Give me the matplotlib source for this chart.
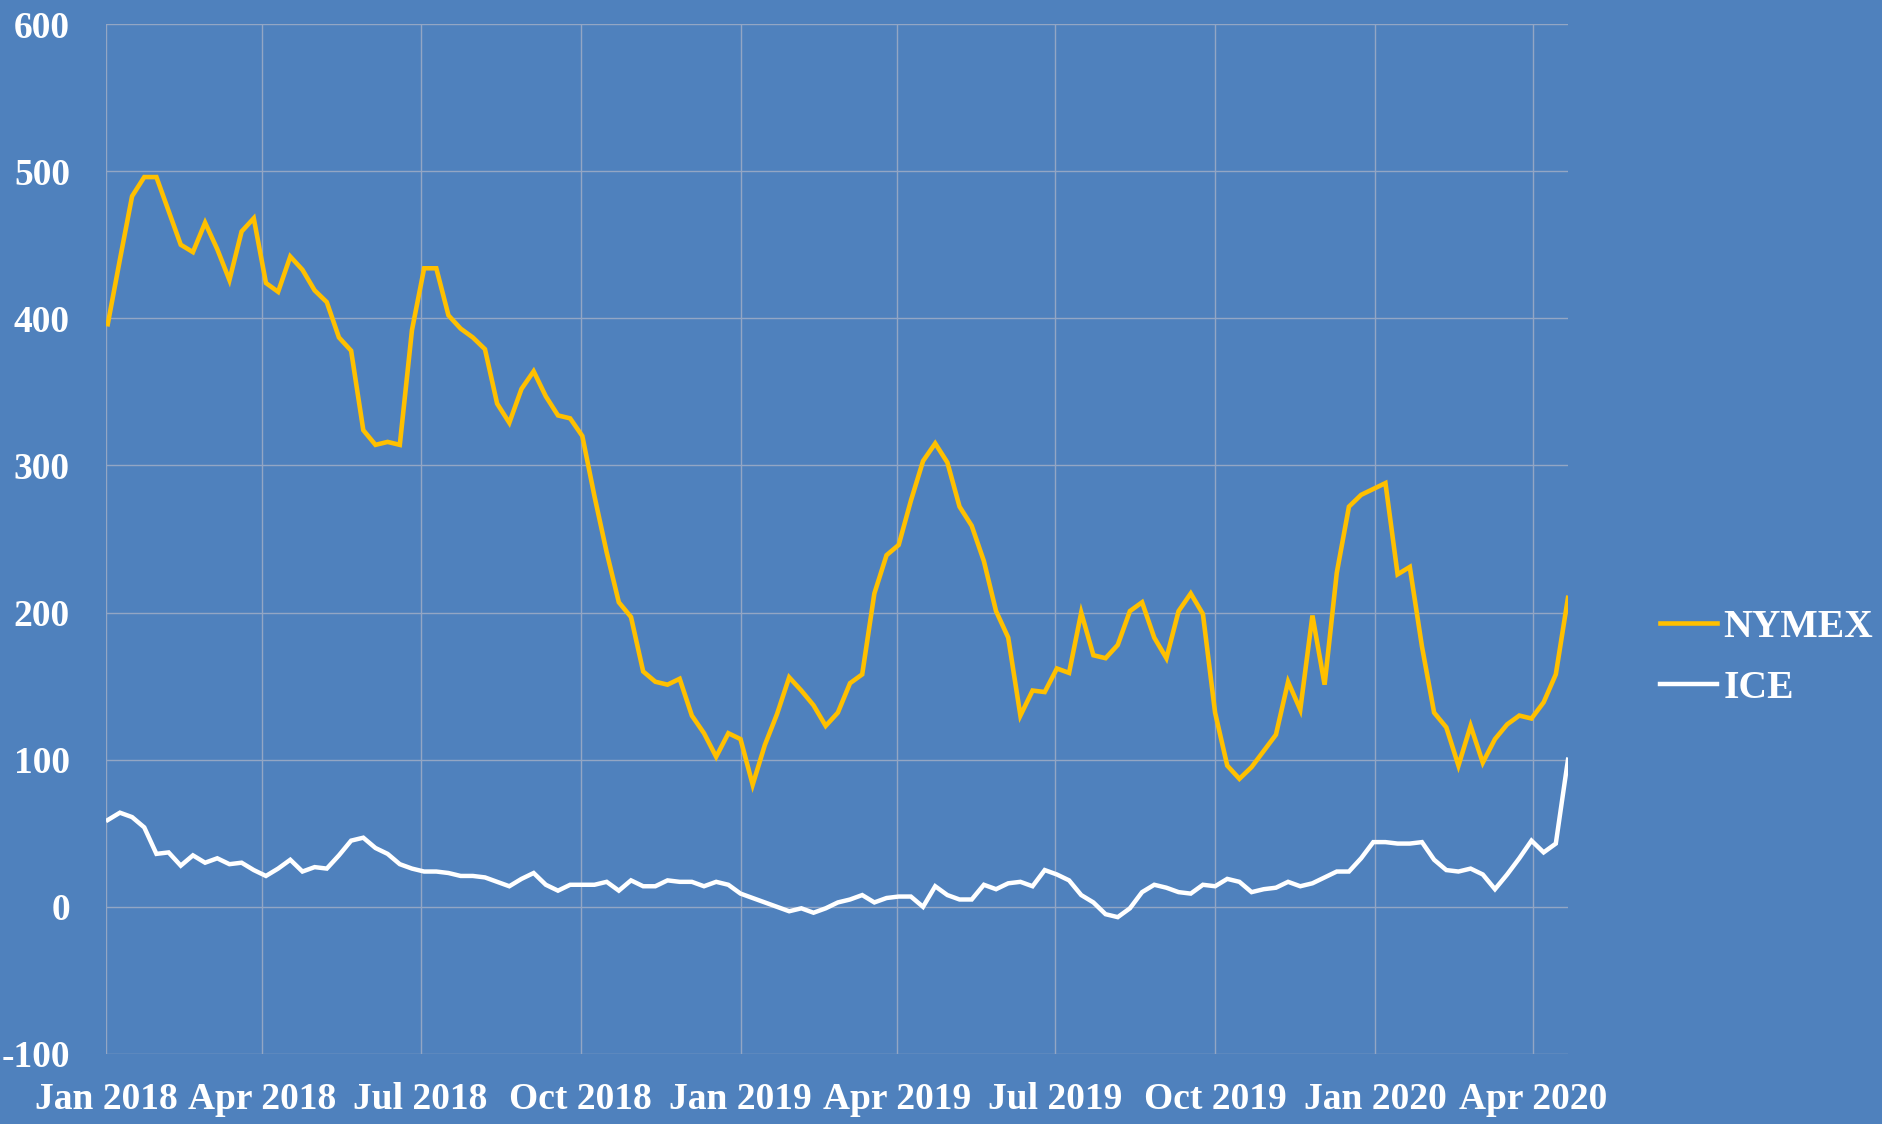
import pandas as pd
import matplotlib
matplotlib.use('Agg')
import matplotlib.pyplot as plt
import matplotlib.dates as mdates

# DATA (weekly, thousand contracts) ==============================================================
START_DATE = '2018-01-02'

nymex = [396, 440, 483, 496, 496, 473, 450, 445, 465, 447, 426, 459, 468, 424, 418, 442,
         433, 419, 411, 387, 378, 324, 314, 316, 314, 392, 434, 434, 402, 393, 387, 379,
         342, 329, 352, 364, 347, 334, 332, 320, 279, 241, 207, 197, 160, 153, 151, 155,
         130, 118, 102, 118, 114, 83, 110, 131, 156, 147, 137, 123, 132, 152, 158, 213,
         239, 246, 276, 303, 315, 302, 272, 259, 235, 201, 183, 130, 147, 146, 162, 159,
         200, 171, 169, 178, 201, 207, 183, 169, 201, 213, 199, 132, 96, 87, 95, 106,
         117, 153, 134, 198, 151, 227, 272, 280, 284, 288, 226, 231, 177, 132, 122, 96,
         123, 98, 114, 124, 130, 128, 139, 158, 210]

ice = [59, 64, 61, 54, 36, 37, 28, 35, 30, 33, 29, 30, 25, 21, 26, 32,
       24, 27, 26, 35, 45, 47, 40, 36, 29, 26, 24, 24, 23, 21, 21, 20,
       17, 14, 19, 23, 15, 11, 15, 15, 15, 17, 11, 18, 14, 14, 18, 17,
       17, 14, 17, 15, 9, 6, 3, 0, -3, -1, -4, -1, 3, 5, 8, 3,
       6, 7, 7, 0, 14, 8, 5, 5, 15, 12, 16, 17, 14, 25, 22, 18,
       8, 3, -5, -7, -1, 10, 15, 13, 10, 9, 15, 14, 19, 17, 10, 12,
       13, 17, 14, 16, 20, 24, 24, 33, 44, 44, 43, 43, 44, 32, 25, 24,
       26, 22, 12, 22, 33, 45, 37, 43, 100]

y_ticks = [-100, 0, 100, 200, 300, 400, 500, 600]
# ===============================================================================================

BG = '#4f81bd'
GOLD = '#ffc000'
GRID = '#93a6c4'
FONT = 'Liberation Serif'

plt.rcParams['axes.unicode_minus'] = False

dates = pd.date_range(START_DATE, periods=len(nymex), freq='7D')

fig = plt.figure(figsize=(18.83, 11.24), dpi=100, facecolor=BG)
ax = fig.add_axes([0.0563, 0.0623, 0.7764, 0.9163])
ax.set_facecolor(BG)

ax.plot(dates, nymex, color=GOLD, lw=3.3, label='NYMEX', solid_joinstyle='miter')
ax.plot(dates, ice, color='white', lw=3.2, label='ICE', solid_joinstyle='miter')

ax.set_ylim(-100, 600)
ax.set_yticks(y_ticks)
ax.set_xlim(pd.Timestamp('2018-01-01'), dates[-1])
ax.xaxis.set_major_locator(mdates.MonthLocator(bymonth=[1, 4, 7, 10]))
ax.xaxis.set_major_formatter(mdates.DateFormatter('%b %Y'))

ax.grid(True, color=GRID, lw=1.0)
ax.set_axisbelow(True)
for s in ax.spines.values():
    s.set_visible(False)

ax.tick_params(axis='both', length=0, colors='white')
ax.tick_params(axis='y', pad=26)
ax.tick_params(axis='x', pad=20)
for lbl in ax.get_xticklabels() + ax.get_yticklabels():
    lbl.set_fontfamily(FONT)
    lbl.set_fontweight('bold')
    lbl.set_fontsize(27)

leg = ax.legend(loc='center left', bbox_to_anchor=(0.8816, 0.4146),
                bbox_transform=fig.transFigure, frameon=False,
                handlelength=1.45, handletextpad=0.15, labelspacing=0.6,
                borderpad=0, borderaxespad=0,
                prop={'family': FONT, 'weight': 'bold', 'size': 28.5})
for t in leg.get_texts():
    t.set_color('white')

fig.savefig('out.png', dpi=100, facecolor=BG)
